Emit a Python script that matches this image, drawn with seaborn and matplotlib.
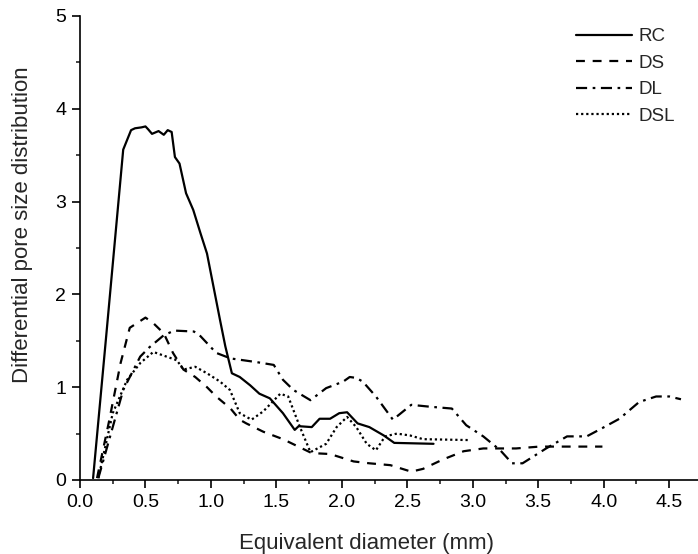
import numpy as np
import pandas as pd
import matplotlib
matplotlib.use("Agg")
import matplotlib.pyplot as plt
from matplotlib.ticker import MultipleLocator
import seaborn as sns

rc_x = [0.10, 0.20, 0.33, 0.39, 0.42, 0.47, 0.50, 0.52, 0.55, 0.60, 0.64, 0.67, 0.70, 0.725, 0.76, 0.81,
        0.865, 0.92, 0.97, 1.02, 1.07, 1.11, 1.16, 1.22, 1.30, 1.37, 1.45, 1.55, 1.64, 1.67, 1.77,
        1.83, 1.91, 1.98, 2.04, 2.12, 2.21, 2.32, 2.40, 2.70]
rc_y = [0.02, 1.55, 3.56, 3.77, 3.79, 3.80, 3.81, 3.78, 3.73, 3.76, 3.72, 3.77, 3.75, 3.48, 3.41, 3.09,
        2.91, 2.66, 2.44, 2.08, 1.72, 1.44, 1.15, 1.11, 1.02, 0.93, 0.88, 0.72, 0.54, 0.58, 0.57,
        0.66, 0.66, 0.72, 0.73, 0.61, 0.57, 0.48, 0.40, 0.39]

ds_x = [0.13, 0.22, 0.31, 0.38, 0.50, 0.56, 0.64, 0.71, 0.79, 0.88, 0.97, 1.04, 1.15, 1.22, 1.27,
        1.40, 1.55, 1.77, 1.91, 2.09, 2.21, 2.37, 2.53, 2.62, 2.77, 2.93, 3.08, 3.33, 3.51, 3.99]
ds_y = [0.02, 0.62, 1.26, 1.64, 1.75, 1.69, 1.58, 1.37, 1.19, 1.11, 1.00, 0.90, 0.77, 0.65, 0.61,
        0.52, 0.44, 0.29, 0.28, 0.20, 0.18, 0.16, 0.09, 0.12, 0.22, 0.31, 0.34, 0.34, 0.36, 0.36]

dl_x = [0.14, 0.33, 0.46, 0.53, 0.64, 0.72, 0.87, 0.92, 1.04, 1.15, 1.35, 1.48, 1.55, 1.63, 1.76,
        1.88, 2.01, 2.06, 2.11, 2.16, 2.26, 2.39, 2.53, 2.67, 2.84, 2.95, 3.08, 3.21, 3.30, 3.38,
        3.56, 3.72, 3.87, 3.99, 4.12, 4.27, 4.40, 4.50, 4.59]
dl_y = [0.02, 0.97, 1.33, 1.43, 1.56, 1.61, 1.60, 1.55, 1.37, 1.31, 1.27, 1.24, 1.08, 0.97, 0.86,
        0.99, 1.06, 1.11, 1.10, 1.06, 0.90, 0.65, 0.81, 0.79, 0.77, 0.59, 0.47, 0.32, 0.18, 0.18,
        0.34, 0.47, 0.47, 0.56, 0.66, 0.84, 0.90, 0.90, 0.87]

dsl_x = [0.14, 0.25, 0.36, 0.46, 0.56, 0.66, 0.74, 0.79, 0.88, 0.97, 1.07, 1.145, 1.22, 1.31, 1.40,
         1.53, 1.59, 1.68, 1.76, 1.88, 1.96, 2.04, 2.11, 2.19, 2.26, 2.33, 2.42, 2.52, 2.62, 2.98]
dsl_y = [0.02, 0.72, 1.08, 1.26, 1.38, 1.33, 1.29, 1.19, 1.22, 1.15, 1.06, 0.97, 0.72, 0.65, 0.74,
         0.93, 0.90, 0.57, 0.30, 0.39, 0.57, 0.68, 0.57, 0.39, 0.32, 0.47, 0.50, 0.48, 0.44, 0.43]

series_names = ["RC", "DS", "DL", "DSL"]

frames = []
for name, xs, ys in zip(series_names, [rc_x, ds_x, dl_x, dsl_x], [rc_y, ds_y, dl_y, dsl_y]):
    frames.append(pd.DataFrame({"x": xs, "y": ys, "series": name}))
df = pd.concat(frames, ignore_index=True)

sns.set_style("ticks")
plt.rcParams["font.family"] = ["Liberation Sans", "DejaVu Sans"]
plt.rcParams["lines.scale_dashes"] = True

fig = plt.figure(figsize=(6.98, 5.54), dpi=100)
ax = fig.add_axes([80 / 698, 1 - 480 / 554, 1 - 80 / 698, (480 - 16) / 554])

dashes = {"RC": "", "DS": (4, 3.5), "DL": (5, 2.5, 1.2, 2.5), "DSL": (1, 1.3)}
sns.lineplot(data=df, x="x", y="y", style="series", style_order=series_names, dashes=dashes,
             color="black", linewidth=1.6, sort=False, estimator=None, ax=ax)

ax.set_xlim(0, 4.72)
ax.set_ylim(0, 5)
ax.xaxis.set_major_locator(MultipleLocator(0.5))
ax.xaxis.set_minor_locator(MultipleLocator(0.25))
ax.yaxis.set_major_locator(MultipleLocator(1))
ax.yaxis.set_minor_locator(MultipleLocator(0.5))
ax.xaxis.set_major_formatter(matplotlib.ticker.FormatStrFormatter("%.1f"))
ax.tick_params(which="major", direction="out", length=6, width=1.2, labelsize=14, colors="black", pad=4)
ax.tick_params(which="minor", direction="out", length=3, width=1.2)
for s in ["top", "right"]:
    ax.spines[s].set_visible(False)
for s in ["left", "bottom"]:
    ax.spines[s].set_linewidth(1.2)
    ax.spines[s].set_color("black")

ax.set_xlabel("Equivalent diameter (mm)", fontsize=16)
ax.set_ylabel("Differential pore size distribution", fontsize=16)
ax.xaxis.set_label_coords(0.463, -0.115)
ax.yaxis.set_label_coords(-0.076, 0.55)

handles, labels = ax.get_legend_handles_labels()
ax.legend(handles, labels, loc="upper right", bbox_to_anchor=(0.99, 1.01), frameon=False,
          fontsize=13.5, handlelength=3.0, labelspacing=0.5, handletextpad=0.35)

fig.savefig("out.png", dpi=100)
